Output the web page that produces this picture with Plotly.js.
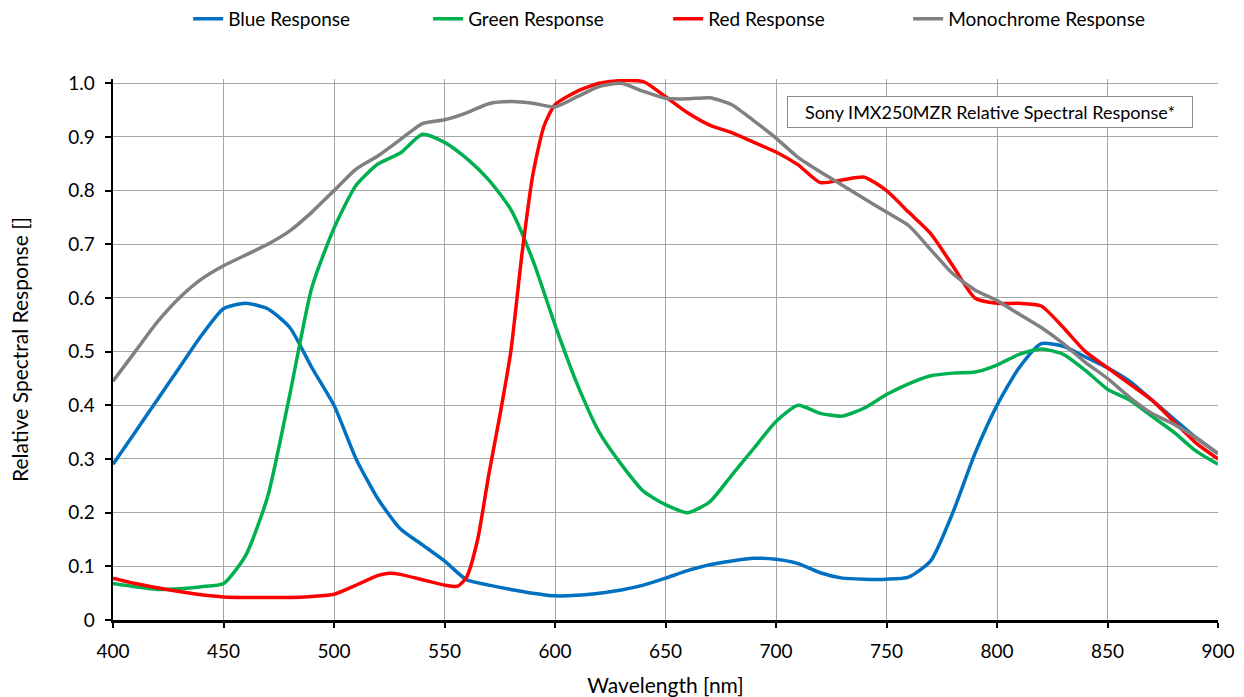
<!DOCTYPE html>
<html><head><meta charset="utf-8">
<script src="https://cdn.plot.ly/plotly-3.0.1.min.js"></script>
<style>html,body{margin:0;padding:0;background:#fff;}#chart{width:1244px;height:697px;}</style>
</head><body><div id="chart"></div>
<script>
const wavelength = [400,410,420,430,440,450,460,470,480,490,500,510,520,530,540,550,560,570,580,590,600,610,620,630,640,650,660,670,680,690,700,710,720,730,740,750,760,770,780,790,800,810,820,830,840,850,860,870,880,890,900];
const blueResponse = [0.29,0.35,0.41,0.47,0.53,0.58,0.59,0.58,0.545,0.47,0.40,0.30,0.225,0.17,0.14,0.11,0.075,0.065,0.057,0.05,0.045,0.046,0.05,0.056,0.065,0.078,0.092,0.103,0.11,0.115,0.113,0.105,0.088,0.078,0.076,0.076,0.08,0.11,0.2,0.31,0.40,0.47,0.515,0.51,0.49,0.47,0.445,0.41,0.375,0.34,0.31];
const greenResponse = [0.068,0.062,0.057,0.058,0.062,0.068,0.12,0.23,0.42,0.62,0.73,0.81,0.85,0.87,0.905,0.89,0.86,0.82,0.765,0.67,0.55,0.44,0.35,0.29,0.24,0.215,0.20,0.22,0.27,0.32,0.37,0.40,0.385,0.38,0.395,0.42,0.44,0.455,0.46,0.462,0.475,0.495,0.505,0.495,0.465,0.43,0.41,0.38,0.35,0.315,0.29];
const redWavelength = [400,410,420,430,440,450,460,470,480,490,500,510,520,525,530,540,550,556,560,565,570,575,580,585,590,595,600,610,620,630,640,650,660,670,680,690,700,710,720,730,740,750,760,770,780,790,800,810,820,830,840,850,860,870,880,890,900];
const redResponse = [0.078,0.068,0.06,0.053,0.047,0.043,0.042,0.042,0.042,0.044,0.048,0.065,0.083,0.087,0.085,0.075,0.065,0.063,0.08,0.15,0.27,0.38,0.50,0.68,0.83,0.92,0.96,0.985,1.0,1.005,1.003,0.975,0.945,0.922,0.908,0.89,0.872,0.848,0.815,0.82,0.825,0.80,0.76,0.72,0.66,0.60,0.59,0.59,0.585,0.545,0.50,0.47,0.44,0.41,0.37,0.33,0.30];
const monoResponse = [0.445,0.50,0.555,0.60,0.635,0.66,0.68,0.70,0.725,0.76,0.80,0.84,0.865,0.895,0.925,0.932,0.945,0.962,0.966,0.963,0.956,0.975,0.994,1.0,0.985,0.972,0.971,0.973,0.96,0.93,0.898,0.862,0.835,0.81,0.785,0.76,0.735,0.69,0.645,0.615,0.595,0.57,0.545,0.515,0.48,0.45,0.415,0.385,0.365,0.34,0.31];
const seriesNames = ["Blue Response","Green Response","Red Response","Monochrome Response"];
const yTickVals = [0,0.1,0.2,0.3,0.4,0.5,0.6,0.7,0.8,0.9,1.0];
const yTickText = ["0","0.1","0.2","0.3","0.4","0.5","0.6","0.7","0.8","0.9","1.0"];
const noteText = "Sony IMX250MZR Relative Spectral Response*";

const FONT = "Lato, 'Open Sans', sans-serif";
function tr(x, y, name, color){
  return {x:x, y:y, name:name, type:'scatter', mode:'lines',
    line:{color:color, width:3.5, shape:'spline', smoothing:0.6}, hoverinfo:'skip'};
}
const data = [
  tr(wavelength, blueResponse, seriesNames[0], '#0070C0'),
  tr(wavelength, greenResponse, seriesNames[1], '#00B050'),
  tr(redWavelength, redResponse, seriesNames[2], '#FF0000'),
  tr(wavelength, monoResponse, seriesNames[3], '#808080')
];
const layout = {
  width:1244, height:697,
  margin:{l:113, r:26, t:79, b:77},
  paper_bgcolor:'#fff', plot_bgcolor:'#fff',
  font:{family:FONT, color:'#000', size:19},
  showlegend:true,
  legend:{orientation:'h', xref:'paper', x:0.068, xanchor:'left', yref:'container', y:0.973, yanchor:'middle',
    entrywidth:195, entrywidthmode:'pixels', itemwidth:30, traceorder:'normal', font:{size:19, family:FONT}},
  xaxis:{range:[400,900], dtick:50, tick0:400, showgrid:true, gridcolor:'#a6a6a6', gridwidth:1,
    showline:true, linecolor:'#000', linewidth:2.5, ticks:'outside', ticklen:5, tickwidth:2, tickcolor:'#000',
    ticklabelstandoff:8,
    zeroline:false, tickfont:{size:19}, title:{text:'Wavelength [nm]', font:{size:21}, standoff:17}},
  yaxis:{range:[0,1.008], tickvals:yTickVals, ticktext:yTickText, showgrid:true, gridcolor:'#a6a6a6', gridwidth:1,
    showline:true, linecolor:'#000', linewidth:2.5, ticks:'outside', ticklen:6, tickwidth:2, tickcolor:'#000',
    ticklabelstandoff:6,
    zeroline:false, tickfont:{size:19}, title:{text:'Relative Spectral Response []', font:{size:21}, standoff:34}},
  annotations:[{text:noteText, xref:'paper', yref:'paper', x:0.794, y:0.939, xanchor:'center', yanchor:'middle',
    showarrow:false, font:{size:18, family:FONT}, width:400, height:26, borderpad:2,
    bgcolor:'#fff', bordercolor:'#8c8c8c', borderwidth:1}]
};
Plotly.newPlot('chart', data, layout, {displayModeBar:false, staticPlot:true});
</script></body></html>
